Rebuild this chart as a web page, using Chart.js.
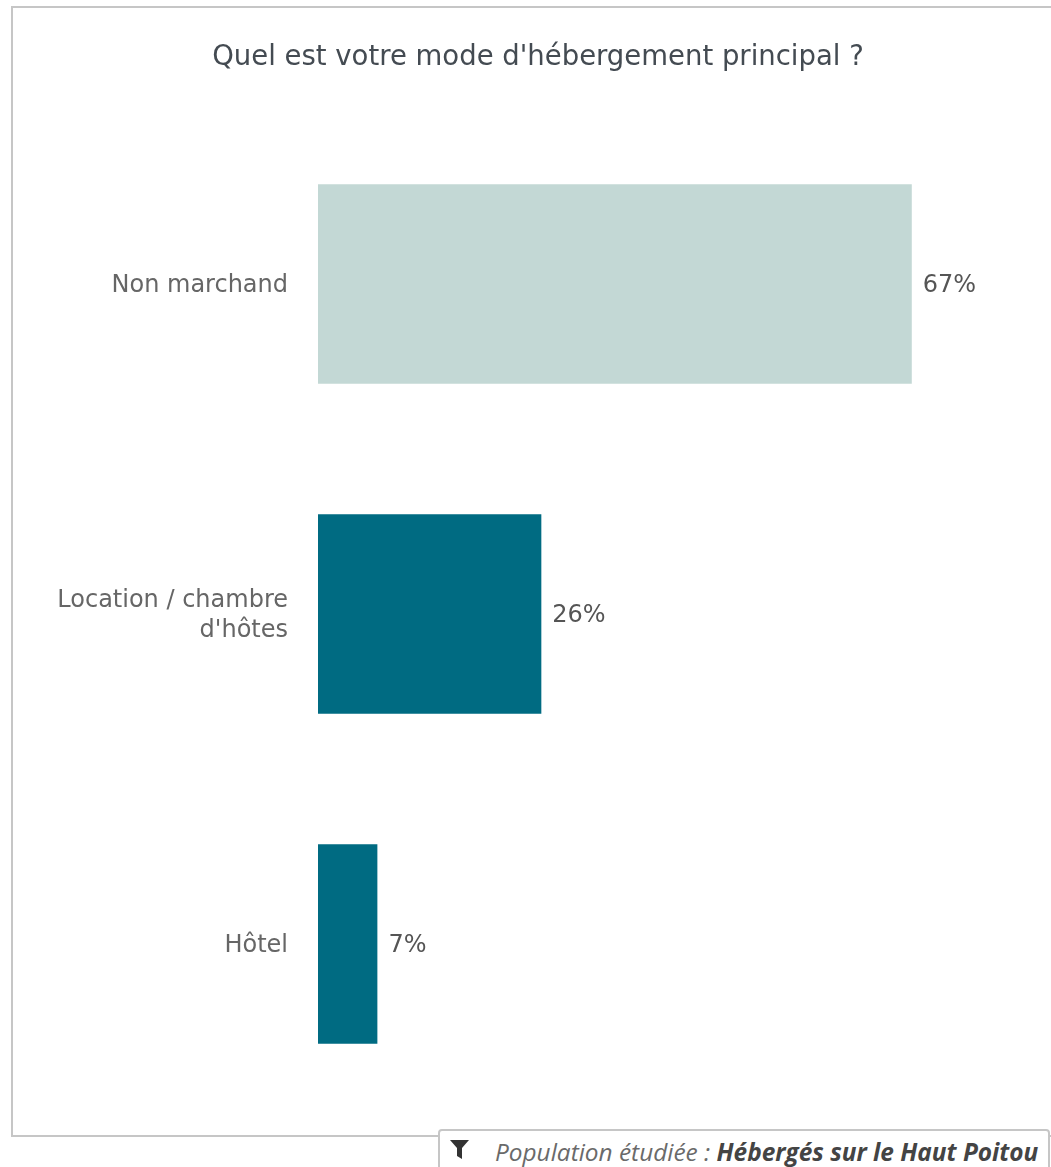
<!DOCTYPE html>
<html lang="fr">
<head>
<meta charset="utf-8">
<title>Mode d'hébergement principal</title>
<script src="https://cdn.jsdelivr.net/npm/chart.js@4"></script>
<style>
    html, body { margin: 0; padding: 0; background: #fff; overflow: hidden; }
    #page { position: relative; width: 1051px; height: 1167px; overflow: hidden; }
    #frame { position: absolute; left: 11px; top: 6px; width: 1060px; height: 1127px; border: 2px solid #c6c6c6; }
    #chartTitle { position: absolute; left: 0; top: 39px; width: 1076px; text-align: center;
        font: 27.5px "DejaVu Sans", sans-serif; color: #444b52; white-space: nowrap; }
    #chart { position: absolute; left: 0; top: 0; }
    #filter { position: absolute; left: 438px; top: 1129px; width: 612px; height: 50px; background: #fff;
        border: 2px solid #c6c6c6; border-radius: 4px; box-sizing: border-box;
        font: italic 24.4px "Open Sans", sans-serif; color: #6a6a6a; white-space: nowrap; }
    #filter svg { position: absolute; left: 10px; top: 9px; }
    #filter span { position: absolute; left: 55px; top: 4px; }
    #filter b { color: #444; }
</style>
</head>
<body>
<div id="page">
    <div id="frame"></div>
    <canvas id="chart" width="1051" height="1167"></canvas>
    <div id="chartTitle">Quel est votre mode d'hébergement principal ?</div>
    <div id="filter">
        <svg width="20" height="20" viewBox="0 0 20 20"><path d="M0 0h19l-7 8v11l-5-3V8z" fill="#333"/></svg>
        <span>Population étudiée : <b>Hébergés sur le Haut Poitou</b></span>
    </div>
</div>
<script>
// Chart data
const categories = ['Non marchand', ['Location / chambre', "d'hôtes"], 'Hôtel'];
const values = [67, 25.2, 6.7];
const valueLabels = ['67%', '26%', '7%'];
const barColors = ['#c3d8d5', '#006b82', '#006b82'];

// Percentages written after each bar
const barLabels = {
    id: 'barLabels',
    afterDatasetsDraw(chart) {
        const ctx = chart.ctx;
        ctx.save();
        ctx.font = '24px "DejaVu Sans", sans-serif';
        ctx.fillStyle = '#555';
        ctx.textBaseline = 'middle';
        chart.getDatasetMeta(0).data.forEach((bar, i) => {
            ctx.fillText(valueLabels[i], bar.x + 11, bar.y + 2);
        });
        ctx.restore();
    }
};

new Chart(document.getElementById('chart'), {
    type: 'bar',
    data: {
        labels: categories,
        datasets: [{
            data: values,
            backgroundColor: barColors,
            categoryPercentage: 0.605,
            barPercentage: 1
        }]
    },
    options: {
        indexAxis: 'y',
        responsive: false,
        animation: false,
        layout: { padding: { top: 119, bottom: 58, right: 24, left: 0 } },
        plugins: { legend: { display: false }, tooltip: { enabled: false } },
        scales: {
            x: { display: false, min: 0, max: 80 },
            y: {
                afterFit(axis) { axis.width = 318; },
                grid: { display: false },
                border: { display: false },
                ticks: { color: '#666', padding: 22, labelOffset: 2, font: { family: '"DejaVu Sans", sans-serif', size: 24, lineHeight: 1.25 } }
            }
        }
    },
    plugins: [barLabels]
});
</script>
</body>
</html>
